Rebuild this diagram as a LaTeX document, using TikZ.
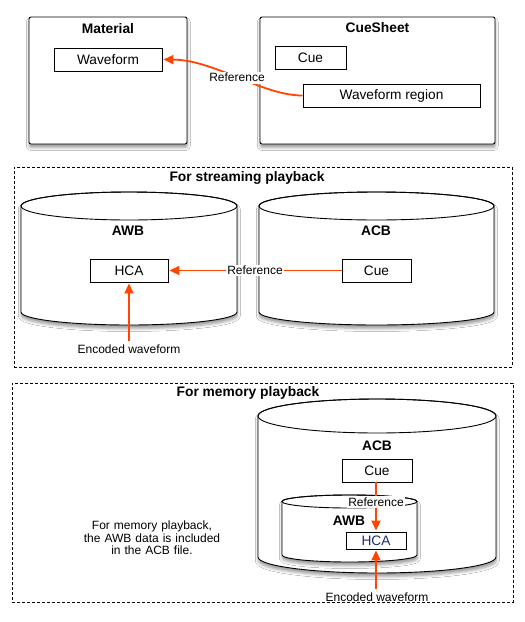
\documentclass[tikz,border=0pt]{standalone}
\usepackage{fontspec}
\setmainfont{Liberation Sans}
\usetikzlibrary{arrows.meta,shadows.blur,positioning}
\definecolor{refred}{RGB}{255,69,0}
\definecolor{hcablue}{RGB}{30,40,120}
\tikzset{
  boxfont/.style={font=\fontsize{13.7}{15}\selectfont},
  smallfont/.style={font=\fontsize{12}{12.3}\selectfont},
  titlefont/.style={font=\fontsize{13.8}{15}\selectfont\bfseries},
  shad/.style={blur shadow={shadow xshift=0.3pt, shadow yshift=-3.5pt, shadow blur radius=3pt, shadow opacity=40}},
  container/.style={draw, line width=0.9pt, fill=white, rounded corners=2pt, shad, inner sep=0pt},
  itembox/.style={draw, line width=0.9pt, fill=white, inner sep=0pt, boxfont},
  cylbody/.style={draw, line width=0.9pt, fill=white, shad},
  groupbox/.style={draw, line width=0.7pt, dash pattern=on 3pt off 2pt},
  refarrow/.style={draw=refred, line width=1.8pt, -{Triangle[length=10pt,width=9pt]}, shorten >=1pt},
  reflabel/.style={fill=white, inner sep=1.5pt, smallfont},
}
\newcommand\mycyl[6]{% cx, rx, ytop, ybot, ryTop, ryBot
  \path[cylbody] (#1-#2,#3) -- (#1-#2,#4)
     arc[start angle=180, end angle=360, x radius=#2pt, y radius=#6pt]
     -- (#1+#2,#3)
     arc[start angle=0, end angle=180, x radius=#2pt, y radius=#5pt] -- cycle;
  \draw[line width=0.9pt] (#1,#3) ellipse[x radius=#2pt, y radius=#5pt];
}
\begin{document}
\begin{tikzpicture}[x=1pt,y=-1pt]
\useasboundingbox[fill=white] (0,0) rectangle (525,622);

% ---------- top part ----------
\node[container, minimum width=158pt, minimum height=127pt] (material) at (108,80.5) {};
\node[titlefont] (materialtitle) at (108,29) {Material};
\node[itembox, minimum width=108pt, minimum height=23pt] (wf) at (108,59.5) {Waveform};

\node[container, minimum width=235pt, minimum height=127pt] (cuesheet) at (377.5,80.5) {};
\node[titlefont] (cuesheettitle) at (377.5,27.5) {CueSheet};
\node[itembox, minimum width=71pt, minimum height=23pt] (cue0) at (310.5,57.5) {Cue};
\node[itembox, minimum width=177pt, minimum height=23pt] (wfr) at (391.5,95.5) {Waveform region};

\draw[refarrow] (wfr.west) .. controls (262,95.5) and (215,60) .. (wf.east)
   node[reflabel, pos=0.5] (ref0) {Reference};

% ---------- streaming playback ----------
\node[groupbox, minimum width=498pt, minimum height=200pt, inner sep=0pt] (stream) at (263,267) {};
\node[titlefont] (streamtitle) at (247,178) {For streaming playback};

\mycyl{129}{108}{206}{312}{14}{13}
\mycyl{376.5}{117.5}{206}{312}{14}{13}
\node[titlefont] (awb1) at (128,231) {AWB};
\node[titlefont] (acb1) at (376,231) {ACB};
\node[itembox, minimum width=78pt, minimum height=23pt] (hca1) at (129,270.5) {HCA};
\node[itembox, minimum width=69pt, minimum height=23pt] (cue1) at (376.5,270.5) {Cue};
\node[smallfont] (enc1) at (129,349) {Encoded waveform};

\draw[refarrow] (cue1.west) -- (hca1.east) node[reflabel, pos=0.5] (ref1) {Reference};
\draw[refarrow] (enc1.north) -- (hca1.south);

% ---------- memory playback ----------
\node[groupbox, minimum width=501pt, minimum height=219pt, inner sep=0pt] (memory) at (262.5,492.5) {};
\node[titlefont] (memorytitle) at (248,393) {For memory playback};

\mycyl{377}{119}{416}{557}{17}{16}
\node[titlefont] (acb2) at (377,446) {ACB};
\node[itembox, minimum width=70pt, minimum height=23pt] (cue2) at (377,470.5) {Cue};
\mycyl{349.5}{67.5}{501.5}{555}{6.5}{7}
\node[titlefont] (awb2) at (349,521) {AWB};
\node[itembox, minimum width=60pt, minimum height=17pt, text=hcablue] (hca2) at (376,540.5) {HCA};
\node[smallfont] (enc2) at (377,597) {Encoded waveform};

\draw[refarrow] (cue2.south -| hca2.north) -- (hca2.north) node[reflabel, pos=0.4] (ref2) {Reference};
\draw[refarrow] (enc2.north -| hca2.south) -- (hca2.south);

\node[smallfont, text width=160pt, align=center] (note) at (152,538) {For memory playback,\\the AWB data is included\\in the ACB file.};
\end{tikzpicture}
\end{document}
